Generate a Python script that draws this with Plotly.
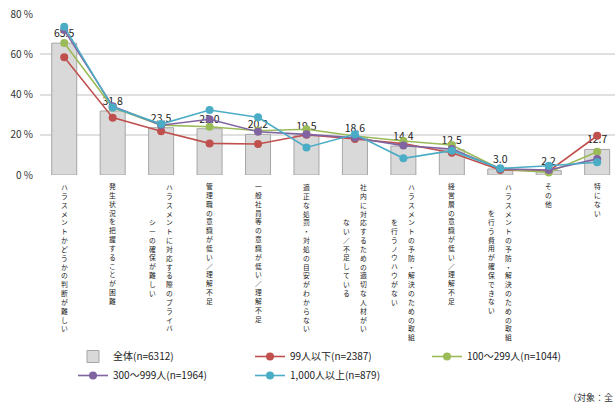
import plotly.graph_objects as go

# ---------------- data ----------------
categories = [
    "ハラスメントかどうかの判断が難しい",
    "発生状況を把握することが困難",
    "ハラスメントに対応する際のプライバ\nシーの確保が難しい",
    "管理職の意識が低い／理解不足",
    "一般社員等の意識が低い／理解不足",
    "適正な処罰・対処の目安がわからない",
    "社内に対応するための適切な人材がい\nない／不足している",
    "ハラスメントの予防・解決のための取組\nを行うノウハウがない",
    "経営層の意識が低い／理解不足",
    "ハラスメントの予防・解決のための取組\nを行う費用が確保できない",
    "その他",
    "特にない",
]
total_vals = [65.5, 31.8, 23.5, 23.0, 20.2, 19.5, 18.6, 14.4, 12.5, 3.0, 2.2, 12.7]
s99_vals = [58.5, 28.5, 21.7, 15.7, 15.4, 20.0, 17.9, 15.6, 11.1, 2.5, 1.9, 19.5]
s100_vals = [65.6, 33.5, 24.8, 24.0, 22.0, 22.7, 19.4, 16.9, 14.9, 3.0, 1.3, 11.6]
s300_vals = [72.0, 34.2, 24.7, 27.7, 21.5, 20.2, 18.5, 14.6, 12.9, 3.0, 2.5, 8.0]
s1000_vals = [73.7, 33.6, 25.3, 32.3, 28.7, 13.7, 20.2, 8.3, 12.1, 3.3, 4.6, 6.3]

series_names = ["全体(n=6312)", "99人以下(n=2387)", "100～299人(n=1044)",
                "300～999人(n=1964)", "1,000人以上(n=879)"]
line_colors = ["#c0504d", "#9bbb59", "#8064a2", "#4bacc6"]
y_ticks = [0, 20, 40, 60, 80]
y_ticktext = ["0 %", "20 %", "40 %", "60 %", "80 %"]
note_text = "（対象：全"

# ---------------- layout constants ----------------
W, H = 615, 410
M_L, M_R, M_T, M_B = 40, 0, 14, 235
plot_h = H - M_T - M_B
plot_w = W - M_L - M_R
band = 48.45
FONT = "Noto Sans CJK JP, Noto Sans, sans-serif"

x_idx = list(range(len(categories)))

fig = go.Figure()
fig.add_trace(go.Bar(
    x=x_idx, y=total_vals, name=series_names[0],
    marker=dict(color="#d9d9d9", line=dict(color="#a6a6a6", width=1)),
    texttemplate="%{y:.1f}", textposition="outside", cliponaxis=False,
    textfont=dict(size=10.5, color="#222", family=FONT),
))
for name, vals, col in zip(series_names[1:], [s99_vals, s100_vals, s300_vals, s1000_vals], line_colors):
    fig.add_trace(go.Scatter(
        x=x_idx, y=vals, name=name, mode="lines+markers",
        line=dict(color=col, width=1.6), marker=dict(color=col, size=8),
        cliponaxis=False,
    ))

# vertical (top-to-bottom) category labels: one annotation per text column
lab_font = 6.8
pitch = lab_font * 1.3
label_top_px = 182
col_gap = 17
annotations = []
for i, lab in enumerate(categories):
    cols = lab.split("\n")
    longest = max(len(c) for c in cols)
    n = len(cols)
    center_px = label_top_px + longest * pitch / 2
    for j, col in enumerate(cols):
        xshift = ((n - 1) / 2 - j) * col_gap
        annotations.append(dict(
            x=i, xref="x", xshift=xshift,
            y=(M_T + plot_h - center_px) / plot_h, yref="paper",
            text="<br>".join(col), showarrow=False, align="center",
            xanchor="center", yanchor="middle", borderpad=0,
            font=dict(size=lab_font, color="#222", family=FONT),
        ))

annotations.append(dict(
    x=1, xref="paper", y=(M_T + plot_h - 397) / plot_h, yref="paper",
    text=note_text, showarrow=False, xanchor="right", yanchor="middle",
    font=dict(size=9, color="#333", family=FONT),
))

fig.update_layout(
    width=W, height=H,
    margin=dict(l=M_L, r=M_R, t=M_T, b=M_B, autoexpand=False),
    paper_bgcolor="white", plot_bgcolor="white",
    bargap=1 - 25 / band,
    showlegend=True,
    legend=dict(
        orientation="h", x=(73 - M_L) / plot_w, xanchor="left",
        y=(M_T + plot_h - 342) / plot_h, yanchor="top",
        entrywidth=132, entrywidthmode="pixels",
        font=dict(size=10, color="#222", family=FONT),
        traceorder="normal", tracegroupgap=0,
    ),
    annotations=annotations,
    font=dict(family=FONT),
)
fig.update_xaxes(
    range=[-0.5, -0.5 + plot_w / band], showticklabels=False, showgrid=False,
    zeroline=False, showline=False, ticks="",
)
fig.update_yaxes(
    range=[0, 80], tickmode="array", tickvals=y_ticks, ticktext=y_ticktext,
    showgrid=True, gridcolor="#e0e0e0", gridwidth=1.5,
    zeroline=False, showline=False, ticks="", ticklabelstandoff=6,
    tickfont=dict(size=10, color="#333", family=FONT),
)

fig.write_html("out.html")
